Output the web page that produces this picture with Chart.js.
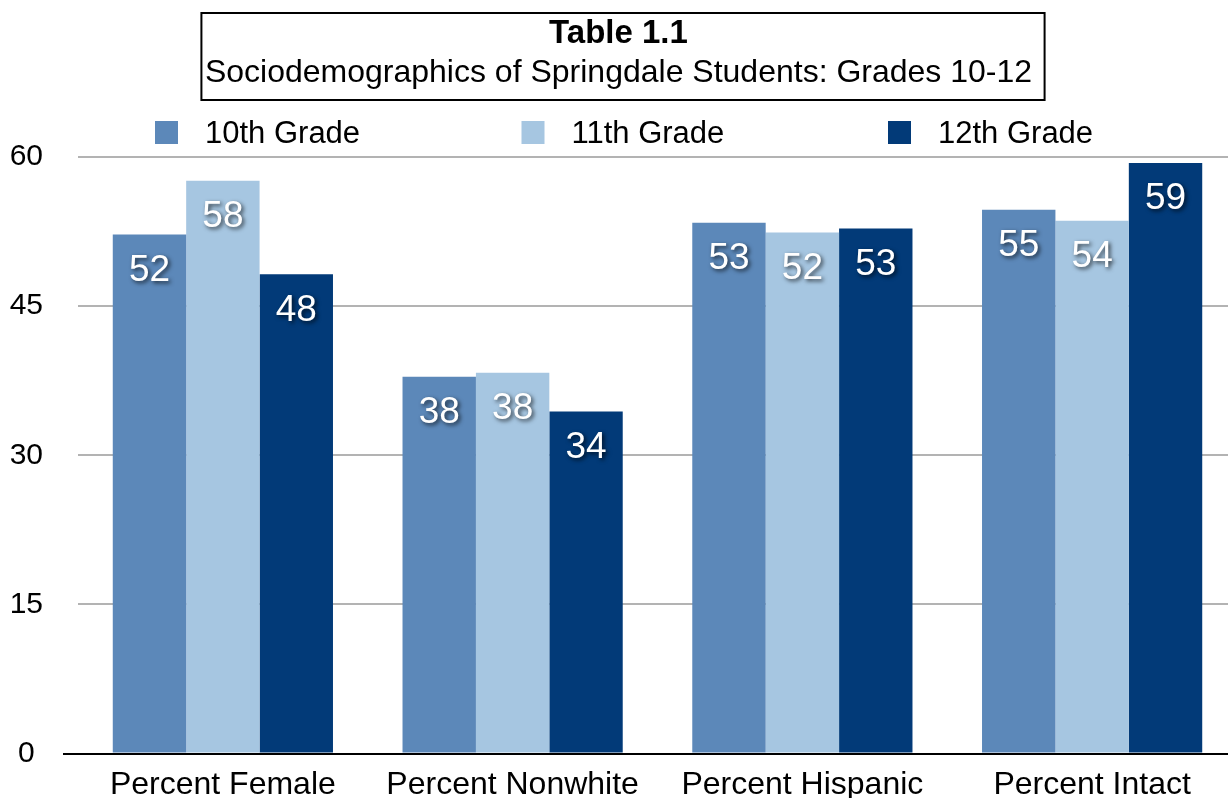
<!DOCTYPE html>
<html>
<head>
<meta charset="utf-8">
<script src="https://cdn.jsdelivr.net/npm/chart.js@4.4.1/dist/chart.umd.min.js"></script>
<style>
  html, body { margin: 0; padding: 0; background: #fff; overflow: hidden; }
  #wrap { position: absolute; left: 0; top: 0; width: 1240px; height: 808px; }
</style>
</head>
<body>
<div id="wrap"><canvas id="c"></canvas></div>
<script>
const categories = ['Percent Female', 'Percent Nonwhite', 'Percent Hispanic', 'Percent Intact'];
const seriesNames = ['10th Grade', '11th Grade', '12th Grade'];
const grade10 = [52.2, 37.9, 53.4, 54.7];
const grade11 = [57.6, 38.3, 52.4, 53.6];
const grade12 = [48.2, 34.4, 52.8, 59.4];
const yTicks = [0, 15, 30, 45, 60];
const titleText = 'Table 1.1';
const subtitleText = 'Sociodemographics of Springdale Students: Grades 10-12';

const colors = ['#5C88B9', '#A6C6E1', '#023A78'];
const FONT = '"Liberation Sans", Arial, Helvetica, sans-serif';

const titleBoxPlugin = {
  id: 'titleBox',
  afterDraw(chart) {
    const ctx = chart.ctx;
    ctx.save();
    ctx.font = '32px ' + FONT;
    const w = ctx.measureText(subtitleText).width;
    const cx = chart.width / 2 + 3;
    ctx.strokeStyle = '#000';
    ctx.lineWidth = 2;
    ctx.strokeRect(cx - w / 2 - 8, 13, w + 16, 87);
    ctx.restore();
  }
};

const legendPlugin = {
  id: 'customLegend',
  afterDraw(chart) {
    const ctx = chart.ctx;
    ctx.save();
    ctx.font = '31px ' + FONT;
    ctx.textBaseline = 'middle';
    ctx.textAlign = 'left';
    chart.data.datasets.forEach((ds, i) => {
      const x = 155 + i * 366.5;
      const y = 133;
      ctx.fillStyle = ds.backgroundColor;
      ctx.fillRect(x, y - 12, 23, 23);
      ctx.fillStyle = '#000';
      ctx.fillText(ds.label, x + 50, y + 1);
    });
    ctx.restore();
  }
};

const valueLabelPlugin = {
  id: 'valueLabels',
  afterDatasetsDraw(chart) {
    const ctx = chart.ctx;
    ctx.save();
    ctx.font = '37px ' + FONT;
    ctx.textAlign = 'center';
    ctx.textBaseline = 'middle';
    chart.data.datasets.forEach((ds, di) => {
      const meta = chart.getDatasetMeta(di);
      meta.data.forEach((bar, i) => {
        const txt = String(Math.round(ds.data[i]));
        ctx.shadowColor = 'rgba(0,0,0,0.7)';
        ctx.shadowBlur = 4;
        ctx.shadowOffsetX = 2;
        ctx.shadowOffsetY = 2;
        ctx.fillStyle = '#fff';
        ctx.fillText(txt, bar.x, bar.y + 36);
      });
    });
    ctx.restore();
  }
};

new Chart(document.getElementById('c'), {
  type: 'bar',
  data: {
    labels: categories,
    datasets: [
      { label: seriesNames[0], data: grade10, backgroundColor: colors[0] },
      { label: seriesNames[1], data: grade11, backgroundColor: colors[1] },
      { label: seriesNames[2], data: grade12, backgroundColor: colors[2] }
    ]
  },
  options: {
    responsive: true,
    maintainAspectRatio: false,
    devicePixelRatio: 1,
    animation: false,
    layout: { padding: { left: 0, right: 3, top: 0, bottom: 0 } },
    datasets: { bar: { categoryPercentage: 0.76, barPercentage: 1.0, borderWidth: 0 } },
    plugins: {
      legend: { display: false },
      tooltip: { enabled: false },
      title: {
        display: true,
        text: titleText,
        color: '#000',
        font: { family: FONT, size: 33, weight: 'bold', lineHeight: 1.2 },
        padding: { top: 14, bottom: 0 }
      },
      subtitle: {
        display: true,
        text: subtitleText,
        color: '#000',
        font: { family: FONT, size: 32, weight: 'normal', lineHeight: 1.2 },
        padding: { top: 0, bottom: 65 }
      }
    },
    scales: {
      x: {
        grid: { display: false },
        border: { display: false },
        ticks: { color: '#000', font: { family: FONT, size: 32 }, padding: 4, maxRotation: 0 }
      },
      y: {
        min: 0,
        max: 60,
        afterBuildTicks(scale) { scale.ticks = yTicks.map(v => ({ value: v })); },
        afterFit(scale) { scale.width = 78; },
        border: { display: false },
        grid: {
          color: c => (c.tick && c.tick.value === 0) ? '#000' : '#b3b3b3',
          lineWidth: 2,
          drawTicks: true,
          tickLength: 15,
          tickColor: c => (c.tick && c.tick.value === 0) ? '#000' : 'rgba(0,0,0,0)',
          tickWidth: 2
        },
        ticks: {
          color: '#000',
          font: { family: FONT, size: 30 },
          padding: 20,
          crossAlign: 'center'
        }
      }
    }
  },
  plugins: [titleBoxPlugin, legendPlugin, valueLabelPlugin]
});
</script>
</body>
</html>
